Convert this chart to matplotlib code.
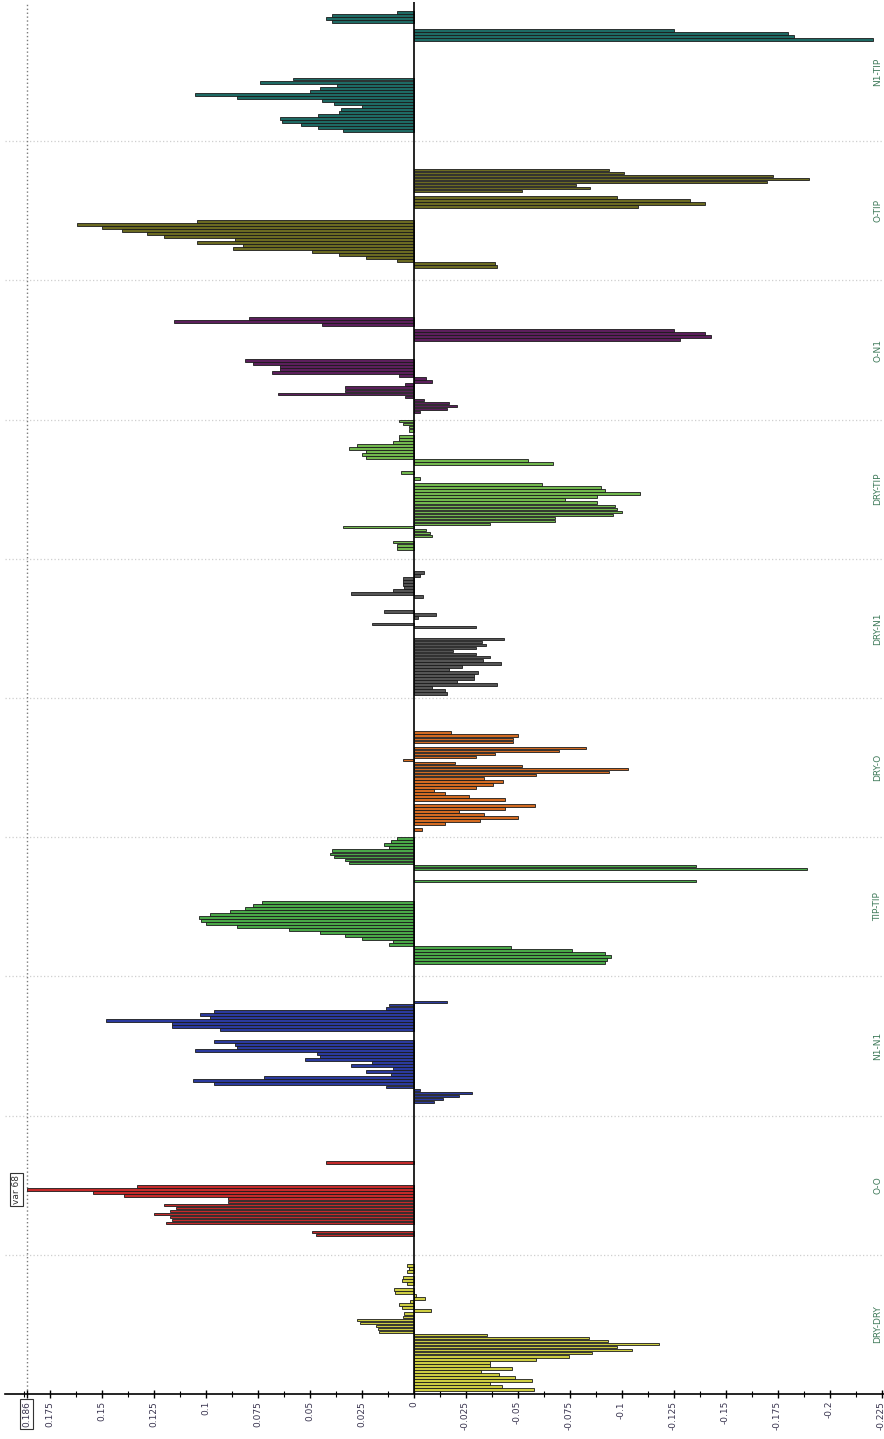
import numpy as np
import matplotlib
matplotlib.use("Agg")
import matplotlib.pyplot as plt
from matplotlib.ticker import FixedLocator, MultipleLocator
from matplotlib.transforms import blended_transform_factory

# --- gruppi di variabili (dall'alto verso il basso) ---
groups = ["N1-TIP", "O-TIP", "O-N1", "DRY-TIP", "DRY-N1",
          "DRY-O", "TIP-TIP", "N1-N1", "O-O", "DRY-DRY"]

n1_tip = [0, 0, 0, .008, .039, .042, .039, 0, 0, -.125, -.180, -.183, -.221,
          0, 0, 0, 0, 0, 0, 0, 0, 0, 0, 0, 0,
          .058, .074, .037, .045, .050, .105, .085, .044, .038, .025, .035,
          .036, .046, .064, .063, .054, .046, .034, 0, 0, 0]

o_tip = [0, 0, 0, 0, 0, 0, 0, 0, 0,
         -.094, -.101, -.173, -.190, -.170, -.078, -.085, -.052, 0, -.098,
         -.133, -.140, -.108,
         0, 0, 0, 0,
         .104, .162, .150, .140, .128, .120, .086, .104, .082, .087, .049,
         .036, .023, .008, -.039, -.040,
         0, 0, 0, 0]

o_n1 = [0, 0, 0, 0, 0, 0, 0, 0, 0, 0, 0, 0,
        .079, .115, .044, 0, -.125, -.140, -.143, -.128,
        0, 0, 0, 0, 0, 0,
        .081, .077, .064, .064, .068, .007, -.006, -.009, .004, .033, .033,
        .065, .004, -.005, -.017, -.021, -.016, -.003,
        0, 0]

dry_tip = [.007, .005, .002, .002, 0, .007, .007, .010, .027, .031, .023,
           .025, .023, -.055, -.067, 0, 0, .006, 0, -.003, 0,
           -.062, -.090, -.092, -.109, -.088, -.073, -.088, -.097, -.098,
           -.100, -.096, -.068, -.068, -.037, .034, -.006, -.008, -.009, 0,
           .010, .008, .008, 0, 0, 0]

dry_n1 = [0, 0, 0, 0,
          -.005, -.003, .005, .005, .005, .0045, .010, .030, -.0045,
          0, 0, 0, 0,
          .014, -.011, -.002, 0, .020, -.030,
          0, 0, 0,
          -.0435, -.033, -.035, -.030, -.019, -.030, -.037, -.0335, -.042,
          -.0235, -.017, -.031, -.029, -.029, -.021, -.040, -.009, -.015,
          -.016, 0]

dry_o = [0, 0, 0, 0, 0, 0, 0, 0, 0, 0, 0,
         -.018, -.050, -.048, -.048, 0, -.083, -.070, -.039, -.030, .005,
         -.020, -.052, -.103, -.094, -.059, -.034, -.043, -.038, -.030,
         -.010, -.015, -.0265, -.044, 0, -.0585, -.044, -.022, -.034,
         -.050, -.032, -.015, 0, -.004,
         0, 0]

tip_tip = [.008, .011, .014, .012, .039, .040, .038, .033, .031, -.136, -.189,
           0, 0, 0, -.136, 0, 0, 0, 0, 0, 0,
           .073, .077, .081, .088, .098, .103, .102, .100, .085, .060, .045,
           .033, .025, .010, .012, -.047, -.076, -.092, -.095, -.093, -.092,
           0, 0, 0, 0]

n1_n1 = [0, 0, 0, 0, 0, 0, 0, 0,
         -.016, .012, .013, .096, .1025, .098, .148, .116, .116, .093,
         0, 0, 0,
         .096, .086, .085, .105, .0465, .045, .052, .020, .030, .010, .023,
         .011, .072, .106, .096, .013, -.003, -.028, -.022, -.014, -.010,
         0, 0, 0, 0]

o_o = [0, 0, 0, 0, 0, 0, 0, 0, 0, 0, 0, 0, 0, 0, 0,
       .042, 0, 0, 0, 0, 0, 0, 0,
       .133, .186, .154, .139, .089, .089, .120, .114, .117, .125, .117,
       .116, .119, 0, 0, .049, .047,
       0, 0, 0, 0, 0, 0]

dry_dry = [0, 0, 0,
           .003, .002, .003, 0, .005, .0056, .003, 0, .0093, .009, -.001,
           -.0056, .0016, .0072, .0056, -.0083, .0048, .005, .0273, .0257,
           .018, .017, .0164,
           -.0355, -.0845, -.0935, -.118, -.098, -.105, -.0856, -.0749, -.059,
           -.037, -.0368, -.0474, -.0326, -.041, -.0487, -.057, -.0366,
           -.0426, -.058, 0]

values = [n1_tip, o_tip, o_n1, dry_tip, dry_n1, dry_o, tip_tip, n1_n1, o_o, dry_dry]

colors = ["#1e6a64", "#6b6a22", "#5c1f5c", "#72b84e", "#555555",
          "#d36b22", "#4aa848", "#2b3a9e", "#c42a2a", "#cdcd42"]

value_ticks = [0.175, 0.15, 0.125, 0.1, 0.075, 0.05, 0.025, 0,
               -0.025, -0.05, -0.075, -0.1, -0.125, -0.15, -0.175, -0.2, -0.225]
tick_text = ["0.175", "0.15", "0.125", "0.1", "0.075", "0.05", "0.025", "0",
             "-0.025", "-0.05", "-0.075", "-0.1", "-0.125", "-0.15", "-0.175",
             "-0.2", "-0.225"]
max_value = 0.186
max_name = "var 68"

# --- figura ---
W, H = 884, 1439
fig = plt.figure(figsize=(W / 100, H / 100), dpi=100)
ax = fig.add_axes([5 / W, 45 / H, 879 / W, 1392 / H])

n_slot = len(values[0])
for g, (vals, col) in enumerate(zip(values, colors)):
    pos = g * n_slot + np.arange(len(vals)) + 0.5
    vals = np.array(vals)
    keep = vals != 0
    ax.barh(pos[keep], vals[keep], height=0.88, color=col,
            edgecolor="#1b1b1b", linewidth=0.6, zorder=3)

n_tot = n_slot * len(groups)
ax.set_ylim(n_tot, 0)
ax.set_xlim(0.1964, -0.2262)

# separatori tra i gruppi
for g in range(1, len(groups)):
    ax.axhline(g * n_slot, color="#cfcfcf", linestyle=(0, (1.0, 1.8)),
               linewidth=0.9, zorder=1)

ax.axvline(0, color="black", linewidth=1.2, zorder=4)
ax.axvline(max_value, color="#7a7a7a", linestyle=(0, (1.0, 1.8)),
           linewidth=1.0, zorder=1)

# etichette dei gruppi sul lato destro
trans = blended_transform_factory(ax.transAxes, ax.transData)
for g, name in enumerate(groups):
    ax.text(0.9932, g * n_slot + n_slot / 2, name, transform=trans,
            rotation=90, ha="center", va="center", fontsize=6.5,
            color="#3f7a5a")

# riquadro con il nome della variabile massima
ax.text(0.191, 24 + 8 * n_slot + 0.5, max_name, rotation=90, ha="center",
        va="center", fontsize=6.5, color="#333333", zorder=5,
        bbox=dict(boxstyle="square,pad=0.2", fc="white", ec="#333333", lw=0.8))

# asse dei valori
for s in ["top", "left", "right"]:
    ax.spines[s].set_visible(False)
ax.spines["bottom"].set_linewidth(1.2)
ax.set_yticks([])
ax.xaxis.set_major_locator(FixedLocator([max_value] + value_ticks))
ax.set_xticklabels([f"{max_value:.3f}"] + tick_text, rotation=90,
                   fontsize=6.5, color="#3a3550")
ax.xaxis.set_minor_locator(MultipleLocator(0.0125))
ax.tick_params(axis="x", which="major", direction="inout", length=6,
               width=1.0, pad=2)
ax.tick_params(axis="x", which="minor", direction="inout", length=4,
               width=0.8)
ax.get_xticklabels()[0].set_bbox(dict(boxstyle="square,pad=0.2", fc="white",
                                      ec="#333333", lw=0.8))

fig.savefig("out.png", dpi=100)
